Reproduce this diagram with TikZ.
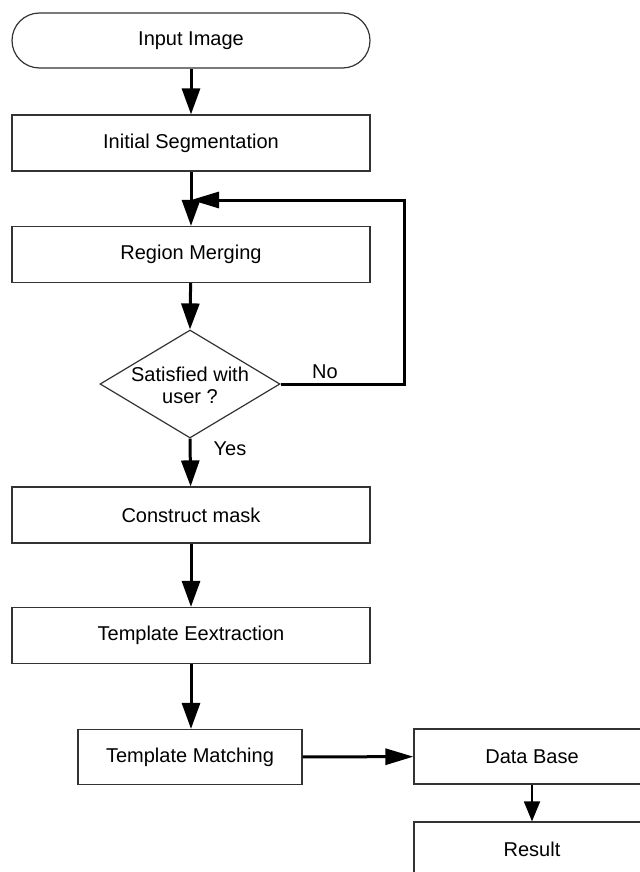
\documentclass[tikz,border=0pt]{standalone}
\usepackage{fontspec}
\setmainfont{Liberation Sans}
\usetikzlibrary{arrows.meta,shapes.geometric,positioning}
\tikzset{
  flow box/.style={draw=black!80,line width=.6pt,minimum width=179pt,minimum height=28pt,
    inner sep=0pt,font=\fontsize{10}{11}\selectfont},
  flow start/.style={flow box,rounded corners=13.75pt,minimum height=27.5pt},
  flow test/.style={draw=black!80,line width=.6pt,diamond,minimum width=90pt,minimum height=54pt,inner sep=0pt},
  flow text/.style={font=\fontsize{10}{11}\selectfont,inner sep=0pt,align=center},
  flow arrow/.style={line width=1.5pt,-{Triangle[length=13pt,width=9pt]}},
  thin arrow/.style={line width=.9pt,-{Triangle[length=10pt,width=8pt]}}
}

\begin{document}
\begin{tikzpicture}[x=0.5pt,y=-0.5pt,line cap=butt,line join=miter]
  \useasboundingbox (0,0) rectangle (640,872);

  \node[flow start] (input)   at (191, 40.5) {Input Image};
  \node[flow box]   (initseg) at (191,143)   {Initial Segmentation};
  \node[flow box]   (merge)   at (191,254.5) {Region Merging};
  \node[flow test]  (sat)     at (190,384)   {};
  \node[flow text]  (satlbl)  at (190,385)   {Satisfied with\\user ?};
  \node[flow box]   (mask)    at (191,515)   {Construct mask};
  \node[flow box]   (extract) at (191,635.5) {Template Eextraction};
  \node[flow box,minimum width=112pt,minimum height=27.5pt] (match) at (190,757) {Template Matching};
  \node[flow box,minimum width=118pt,minimum height=27.5pt] (dbase) at (532,756.5) {Data Base};
  \node[flow box,minimum width=118pt,minimum height=27.5pt] (result) at (532,849.5) {Result};

  \coordinate (loopR) at (404,384);
  \coordinate (loopT) at (404,200);
  \coordinate (join)  at (191,200);

  \draw[flow arrow] (input) -- (initseg);
  \draw[flow arrow] (initseg) -- (merge);
  \draw[flow arrow] (merge) -- (sat.north);
  \draw[line width=1.5pt,-{Triangle[length=14pt,width=8pt]}] (sat.east) -- (loopR) -- (loopT) -- (join);
  \draw[flow arrow] (sat.south) -- (mask);
  \draw[flow arrow] (mask) -- (extract);
  \draw[flow arrow] (extract.south) -- (extract.south |- match.north);
  \draw[line width=1.5pt,-{Triangle[length=14pt,width=8pt]}] (match) -- (dbase);
  \draw[thin arrow] (dbase) -- (result);

  \node[flow text] (nolbl)  at (325,372) {No};
  \node[flow text] (yeslbl) at (230,449) {Yes};
\end{tikzpicture}
\end{document}
